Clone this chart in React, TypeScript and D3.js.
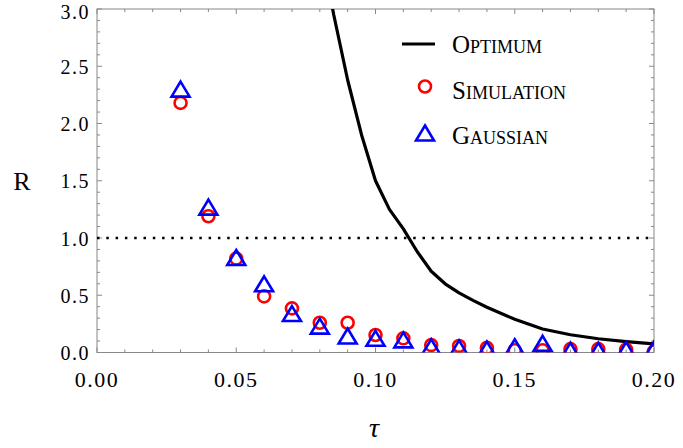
import React from "react";
import * as d3 from "d3";

const tauValues = [0.03, 0.04, 0.05, 0.06, 0.07, 0.08, 0.09, 0.1, 0.11, 0.12, 0.13, 0.14, 0.15, 0.16, 0.17, 0.18, 0.19, 0.2];
const simulation = [2.18, 1.19, 0.82, 0.49, 0.385, 0.26, 0.26, 0.153, 0.124, 0.065, 0.057, 0.04, 0.02, 0.02, 0.03, 0.03, 0.025, 0.01];
const gaussian = [2.3, 1.27, 0.83, 0.6, 0.34, 0.23, 0.144, 0.124, 0.11, 0.05, 0.04, 0.03, 0.05, 0.08, 0.02, 0.02, 0.025, 0.03];
const optimumTau = [0.08, 0.085, 0.09, 0.095, 0.1, 0.105, 0.11, 0.115, 0.12, 0.125, 0.13, 0.135, 0.14, 0.15, 0.16, 0.17, 0.18, 0.19, 0.2];
const optimumR = [3.6, 2.95, 2.38, 1.9, 1.5, 1.25, 1.08, 0.88, 0.71, 0.6, 0.52, 0.455, 0.395, 0.29, 0.205, 0.155, 0.12, 0.095, 0.075];
const xTicks = [0, 0.05, 0.1, 0.15, 0.2];
const yTicks = [0, 0.5, 1, 1.5, 2, 2.5, 3];
const legendLabels = ["Optimum", "Simulation", "Gaussian"];

const W = 683, H = 448;
const left = 97, right = 654, top = 9, bottom = 352.5;
const FONT = "'Liberation Serif', serif";
const FRAME = "#888";

export default function App() {
  const x = d3.scaleLinear().domain([0, 0.2]).range([left, right]);
  const y = d3.scaleLinear().domain([0, 3]).range([bottom, top]);
  const line = d3.line<number>().x((_, i) => x(optimumTau[i])).y((d) => y(d));
  const xMinor = d3.range(0, 0.2001, 0.01);
  const yMinor = d3.range(0, 3.001, 0.1);
  const tri = (cx: number, cy: number) => {
    const s = 9, h = 7.5;
    return `M${cx},${cy - h}L${cx + s},${cy + h}L${cx - s},${cy + h}Z`;
  };
  const isMajorX = (v: number) => Math.abs(v / 0.05 - Math.round(v / 0.05)) < 1e-6;
  const isMajorY = (v: number) => Math.abs(v / 0.5 - Math.round(v / 0.5)) < 1e-6;

  return (
    <svg width={W} height={H} style={{ position: "absolute", left: 0, top: 0, background: "#fff" }} fontFamily={FONT}>
      <defs>
        <clipPath id="plot">
          <rect x={left} y={top} width={right - left} height={bottom - top} />
        </clipPath>
      </defs>
      <g stroke={FRAME} strokeWidth={1}>
        {xMinor.map((v, i) => {
          const L = isMajorX(v) ? 5 : 3;
          return (
            <g key={"xt" + i}>
              <line x1={x(v)} x2={x(v)} y1={bottom} y2={bottom - L} />
              <line x1={x(v)} x2={x(v)} y1={top} y2={top + L} />
            </g>
          );
        })}
        {yMinor.map((v, i) => {
          const L = isMajorY(v) ? 5 : 3;
          return (
            <g key={"yt" + i}>
              <line x1={left} x2={left + L} y1={y(v)} y2={y(v)} />
              <line x1={right} x2={right - L} y1={y(v)} y2={y(v)} />
            </g>
          );
        })}
        <rect x={left} y={top} width={right - left} height={bottom - top} fill="none" />
      </g>
      {xTicks.map((v) => (
        <text key={"xl" + v} x={x(v)} y={387} textAnchor="middle" fontSize={22} letterSpacing={1.5} fill="#000">
          {v.toFixed(2)}
        </text>
      ))}
      {yTicks.map((v) => (
        <text key={"yl" + v} x={90} y={Math.max(y(v) + 7.5, 18.5)} textAnchor="end" fontSize={20} letterSpacing={1.5} fill="#000">
          {v.toFixed(1)}
        </text>
      ))}
      <text x={22} y={190} textAnchor="middle" fontSize={26} fill="#000">R</text>
      <text x={374} y={437} textAnchor="middle" fontSize={28} fontStyle="italic" fill="#000">τ</text>
      <g clipPath="url(#plot)">
        <line x1={left} x2={right} y1={y(1)} y2={y(1)} stroke="#000" strokeWidth={2.5} strokeDasharray="2.5 6.8" />
        <path d={line(optimumR) || ""} fill="none" stroke="#000" strokeWidth={3.2} strokeLinejoin="round" />
        {simulation.map((v, i) => (
          <circle key={"c" + i} cx={x(tauValues[i])} cy={y(v)} r={6} fill="none" stroke="#ff0000" strokeWidth={2.6} />
        ))}
        {gaussian.map((v, i) => (
          <path key={"t" + i} d={tri(x(tauValues[i]), y(v))} fill="none" stroke="#0000ff" strokeWidth={2.6} strokeLinejoin="miter" />
        ))}
      </g>
      <g>
        <line x1={402} x2={435} y1={44} y2={44} stroke="#000" strokeWidth={3.2} />
        <circle cx={425} cy={86.5} r={6} fill="none" stroke="#ff0000" strokeWidth={2.6} />
        <path d={tri(425, 133)} fill="none" stroke="#0000ff" strokeWidth={2.6} />
        {legendLabels.map((t, i) => (
          <text key={t} x={452} y={53 + i * 45.5} fontSize={25} style={{ fontVariant: "small-caps" }} fill="#000">
            {t}
          </text>
        ))}
      </g>
    </svg>
  );
}
